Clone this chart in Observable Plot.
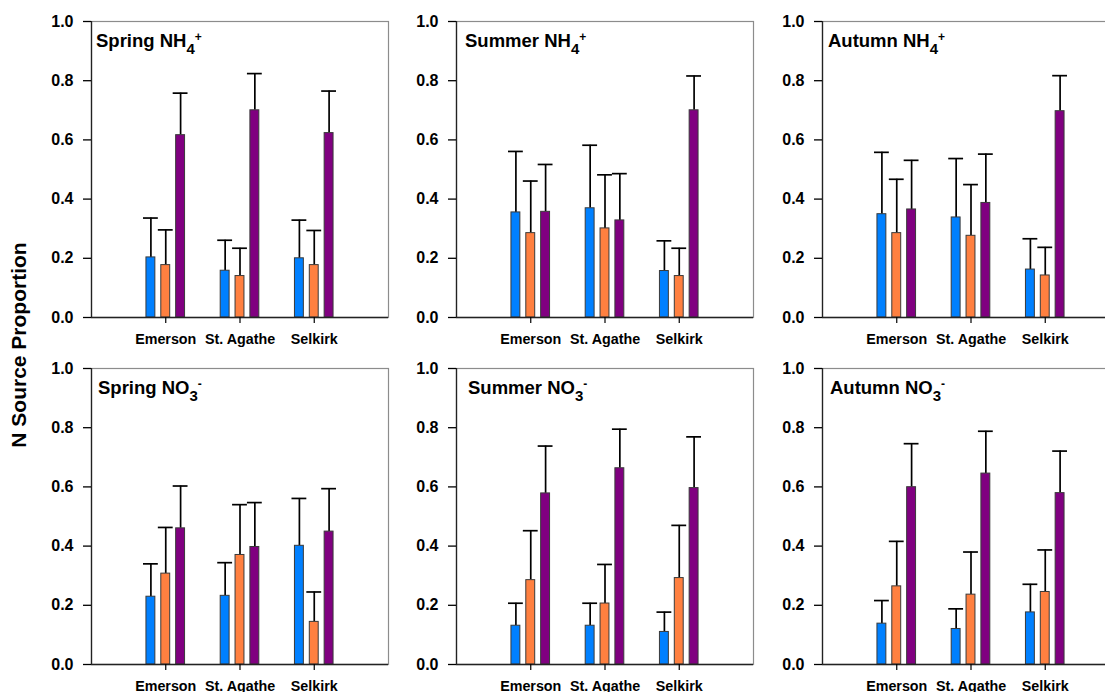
<!DOCTYPE html>
<html>
<head>
<meta charset="utf-8">
<script src="https://cdn.jsdelivr.net/npm/d3@7"></script>
<script src="https://cdn.jsdelivr.net/npm/@observablehq/plot@0.6"></script>
<style>
  body { margin: 0; background: #fff; }
  #wrap { position: relative; width: 1105px; height: 692px; overflow: hidden; background: #fff;
          font-family: "Liberation Sans", Arial, sans-serif; }
  #wrap svg { position: absolute; overflow: visible; }
</style>
</head>
<body>
<div id="wrap"></div>
<script>
// ---- data ----
const sites = ["Emerson", "St. Agathe", "Selkirk"];
const series = ["Source 1", "Source 2", "Source 3"];
const colors = ["#0080ff", "#ff8040", "#800080"];
const yTicks = [0, 0.2, 0.4, 0.6, 0.8, 1.0];

const titleMain = ["Spring NH", "Summer NH", "Autumn NH", "Spring NO", "Summer NO", "Autumn NO"];
const titleSub  = ["4", "4", "4", "3", "3", "3"];
const titleSup  = ["+", "+", "+", "-", "-", "-"];

// per site: [blue, orange, purple]
const springNH4      = [[0.203, 0.177, 0.616], [0.158, 0.140, 0.700], [0.200, 0.177, 0.623]];
const springNH4Upper = [[0.336, 0.296, 0.758], [0.261, 0.234, 0.824], [0.329, 0.294, 0.765]];
const summerNH4      = [[0.355, 0.285, 0.357], [0.369, 0.301, 0.328], [0.157, 0.140, 0.700]];
const summerNH4Upper = [[0.561, 0.461, 0.517], [0.582, 0.482, 0.486], [0.259, 0.234, 0.816]];
const autumnNH4      = [[0.349, 0.285, 0.365], [0.338, 0.276, 0.387], [0.162, 0.142, 0.697]];
const autumnNH4Upper = [[0.558, 0.467, 0.531], [0.537, 0.449, 0.552], [0.266, 0.237, 0.817]];
const springNO3      = [[0.229, 0.307, 0.460], [0.232, 0.370, 0.397], [0.401, 0.144, 0.449]];
const springNO3Upper = [[0.340, 0.463, 0.603], [0.344, 0.540, 0.547], [0.561, 0.245, 0.594]];
const summerNO3      = [[0.131, 0.285, 0.578], [0.131, 0.206, 0.663], [0.110, 0.292, 0.596]];
const summerNO3Upper = [[0.207, 0.452, 0.738], [0.207, 0.338, 0.795], [0.177, 0.470, 0.769]];
const autumnNO3      = [[0.138, 0.264, 0.599], [0.120, 0.236, 0.645], [0.176, 0.245, 0.579]];
const autumnNO3Upper = [[0.216, 0.416, 0.746], [0.188, 0.380, 0.788], [0.271, 0.387, 0.721]];

const panelMeans  = [springNH4, summerNH4, autumnNH4, springNO3, summerNO3, autumnNO3];
const panelUppers = [springNH4Upper, summerNH4Upper, autumnNH4Upper, springNO3Upper, summerNO3Upper, autumnNO3Upper];

// ---- layout ----
const frameLefts = [91, 456, 822];
const frameTops = [21, 368];
const titleDx = [5, 9, 6, 7, 12, 8];
const offsets = [-0.2, 0, 0.2];
const mL = 70, mR = 10, mT = 10, mB = 40, W = 297, H = 296;
const FONT = '"Liberation Sans", Arial, sans-serif';

const wrap = document.getElementById("wrap");

function makePanel(k) {
  const means = panelMeans[k], uppers = panelUppers[k];
  const rows = [];
  sites.forEach((s, i) => series.forEach((ser, j) => rows.push({
    site: s, series: ser, pos: i + 1 + offsets[j], value: means[i][j], upper: uppers[i][j]
  })));
  const chart = Plot.plot({
    width: W + mL + mR, height: H + mT + mB,
    marginLeft: mL, marginRight: mR, marginTop: mT, marginBottom: mB,
    style: { background: "transparent", fontFamily: FONT, fontWeight: "bold",
             fontSize: "15px", color: "#000", overflow: "visible" },
    x: { domain: [0, 4] },
    y: { domain: [0, 1] },
    color: { domain: series, range: colors },
    marks: [
      Plot.frame({ stroke: "#8c8c8c", strokeWidth: 1.2 }),
      Plot.ruleX(rows, { x: "pos", y1: "value", y2: "upper", stroke: "#000", strokeWidth: 1.7 }),
      Plot.ruleY(rows, { y: "upper", x1: d => d.pos - 0.1, x2: d => d.pos + 0.1, stroke: "#000", strokeWidth: 1.7 }),
      Plot.rect(rows, { x1: d => d.pos - 0.06, x2: d => d.pos + 0.06, y1: 0, y2: "value",
                        fill: "series", stroke: "#3a3a3a", strokeWidth: 1 }),
      Plot.ruleX([0], { stroke: "#222", strokeWidth: 1.3 }),
      Plot.ruleY([0], { stroke: "#222", strokeWidth: 1.3 }),
      Plot.axisY({ ticks: yTicks, tickFormat: d3.format(".1f"), tickSize: 8, tickPadding: 10,
                   label: null, strokeWidth: 1.3 }),
      Plot.axisX({ ticks: [1, 2, 3], tickFormat: d => sites[d - 1], tickSize: 6, tickPadding: 10,
                   label: null, strokeWidth: 1.2 })
    ]
  });
  const svg = d3.select(chart);
  svg.selectAll('g[aria-label="y-axis tick label"]').attr("font-size", 16);
  svg.selectAll('g[aria-label="x-axis tick label"]').attr("font-size", 14.3);
  const col = k % 3, row = Math.floor(k / 3);
  chart.style.left = (frameLefts[col] - mL) + "px";
  chart.style.top = (frameTops[row] - mT) + "px";
  // panel title with sub/superscripts
  const t = svg.append("text")
    .attr("x", mL + titleDx[k]).attr("y", mT + 26)
    .attr("text-anchor", "start")
    .attr("font-size", 18.5).attr("font-weight", "bold").attr("fill", "#000");
  t.append("tspan").text(titleMain[k]);
  t.append("tspan").attr("dy", 6.5).attr("font-size", 15).text(titleSub[k]);
  t.append("tspan").attr("dy", -13).attr("font-size", 12).text(titleSup[k]);
  wrap.appendChild(chart);
}

for (let k = 0; k < 6; k++) makePanel(k);

// y-axis title
const ySvg = d3.create("svg").attr("width", 40).attr("height", 692)
  .style("left", "0px").style("top", "0px");
ySvg.append("text")
  .attr("transform", "translate(26,345) rotate(-90)")
  .attr("text-anchor", "middle")
  .attr("font-family", FONT)
  .attr("font-weight", "bold").attr("font-size", 21).attr("fill", "#000")
  .text("N Source Proportion");
wrap.appendChild(ySvg.node());
</script>
</body>
</html>
